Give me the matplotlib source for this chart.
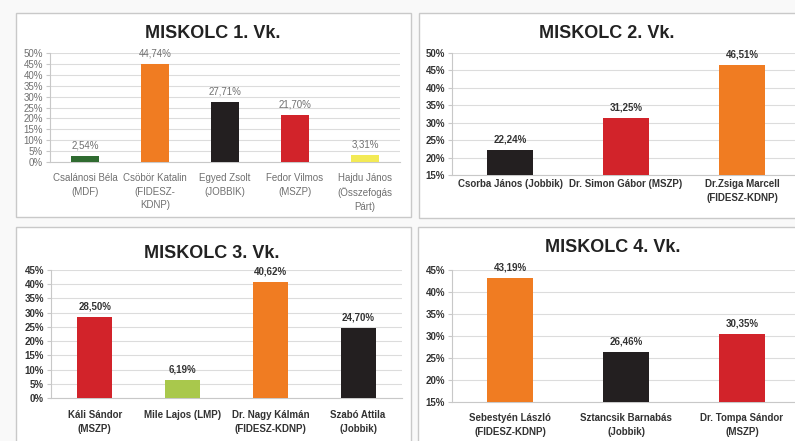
import matplotlib
matplotlib.use("Agg")
import matplotlib.pyplot as plt
from matplotlib.patches import Rectangle

plt.rcParams["font.family"] = ["Liberation Sans", "DejaVu Sans"]

# --- data -------------------------------------------------------------
titles = ["MISKOLC 1. Vk.", "MISKOLC 2. Vk.", "MISKOLC 3. Vk.", "MISKOLC 4. Vk."]

names_1 = ["Csalánosi Béla\n(MDF)", "Csöbör Katalin\n(FIDESZ-\nKDNP)", "Egyed Zsolt\n(JOBBIK)",
           "Fedor Vilmos\n(MSZP)", "Hajdu János\n(Összefogás\nPárt)"]
values_1 = [2.54, 44.74, 27.71, 21.70, 3.31]
colors_1 = ["#2f6b30", "#f07c22", "#231f20", "#d2232a", "#f3ea55"]

names_2 = ["Csorba János (Jobbik)", "Dr. Simon Gábor (MSZP)", "Dr.Zsiga Marcell\n(FIDESZ-KDNP)"]
values_2 = [22.24, 31.25, 46.51]
colors_2 = ["#231f20", "#d2232a", "#f07c22"]

names_3 = ["Káli Sándor\n(MSZP)", "Mile Lajos (LMP)", "Dr. Nagy Kálmán\n(FIDESZ-KDNP)", "Szabó Attila\n(Jobbik)"]
values_3 = [28.50, 6.19, 40.62, 24.70]
colors_3 = ["#d2232a", "#a9c84c", "#f07c22", "#231f20"]

names_4 = ["Sebestyén László\n(FIDESZ-KDNP)", "Sztancsik Barnabás\n(Jobbik)", "Dr. Tompa Sándor\n(MSZP)"]
values_4 = [43.19, 26.46, 30.35]
colors_4 = ["#f07c22", "#231f20", "#d2232a"]

W, H = 795, 441
fig = plt.figure(figsize=(W / 100, H / 100), dpi=100, facecolor="#f9f9f9")


def px(x0, y0, x1, y1):
    """pixel box (top-left origin) -> figure rect"""
    return [x0 / W, 1 - y1 / H, (x1 - x0) / W, (y1 - y0) / H]


# panel frames
for x0, y0, x1, y1 in [(16, 13, 411, 217), (419, 13, 800, 218), (16, 227, 411, 450), (418, 227, 800, 450)]:
    fig.patches.append(Rectangle((x0 / W, 1 - y1 / H), (x1 - x0) / W, (y1 - y0) / H,
                                 transform=fig.transFigure, fill=True, facecolor="white",
                                 edgecolor="#c9c9c9", linewidth=1.0, zorder=-5))

panels = [
    (px(50, 53, 400, 162), names_1, values_1, colors_1, (0, 50), 0, (213, 33), False, 8),
    (px(452, 53, 800, 175), names_2, values_2, colors_2, (15, 50), 15, (607, 33), True, 3),
    (px(51, 270, 402, 398), names_3, values_3, colors_3, (0, 45), 0, (212, 253), True, 9),
    (px(452, 270, 800, 402), names_4, values_4, colors_4, (15, 45), 15, (613, 247), True, 8),
]

for (rect, names, vals, cols, ylim, base, tpos, bold, pad), title in zip(panels, titles):
    ax = fig.add_axes(rect)
    ax.set_facecolor("none")
    x = list(range(len(vals)))
    heights = [v - base for v in vals]
    ax.bar(x, heights, width=0.4, bottom=base, color=cols, zorder=3)
    ax.set_xlim(-0.5, len(vals) - 0.5)
    ax.set_ylim(*ylim)
    ticks = list(range(ylim[0], ylim[1] + 1, 5))
    ax.set_yticks(ticks)
    weight = "bold" if bold else "normal"
    tcol = "#333333" if bold else "#707070"
    ax.set_yticklabels([f"{t}%" for t in ticks], fontsize=7, fontweight=weight, color=tcol)
    ax.set_xticks(x)
    ax.set_xticklabels(names, fontsize=7, fontweight=weight, color=tcol, linespacing=1.45, va="top")
    ax.tick_params(axis="x", length=0, pad=pad)
    ax.tick_params(axis="y", length=3, color="#c8c8c8", pad=2)
    ax.grid(axis="y", color="#dcdcdc", linewidth=0.8, zorder=0)
    for s in ["top", "right"]:
        ax.spines[s].set_visible(False)
    for s in ["left", "bottom"]:
        ax.spines[s].set_color("#c8c8c8")
        ax.spines[s].set_linewidth(0.8)
    for xi, v in zip(x, vals):
        ax.annotate(f"{v:.2f}%".replace(".", ","), (xi, v), xytext=(0, 4), textcoords="offset points",
                    ha="center", va="bottom", fontsize=7, fontweight=weight, color=tcol)
    fig.text(tpos[0] / W, 1 - tpos[1] / H, title, ha="center", va="center",
             fontsize=13, fontweight="bold", color="#222222")

fig.savefig("out.png", dpi=100, facecolor=fig.get_facecolor())
